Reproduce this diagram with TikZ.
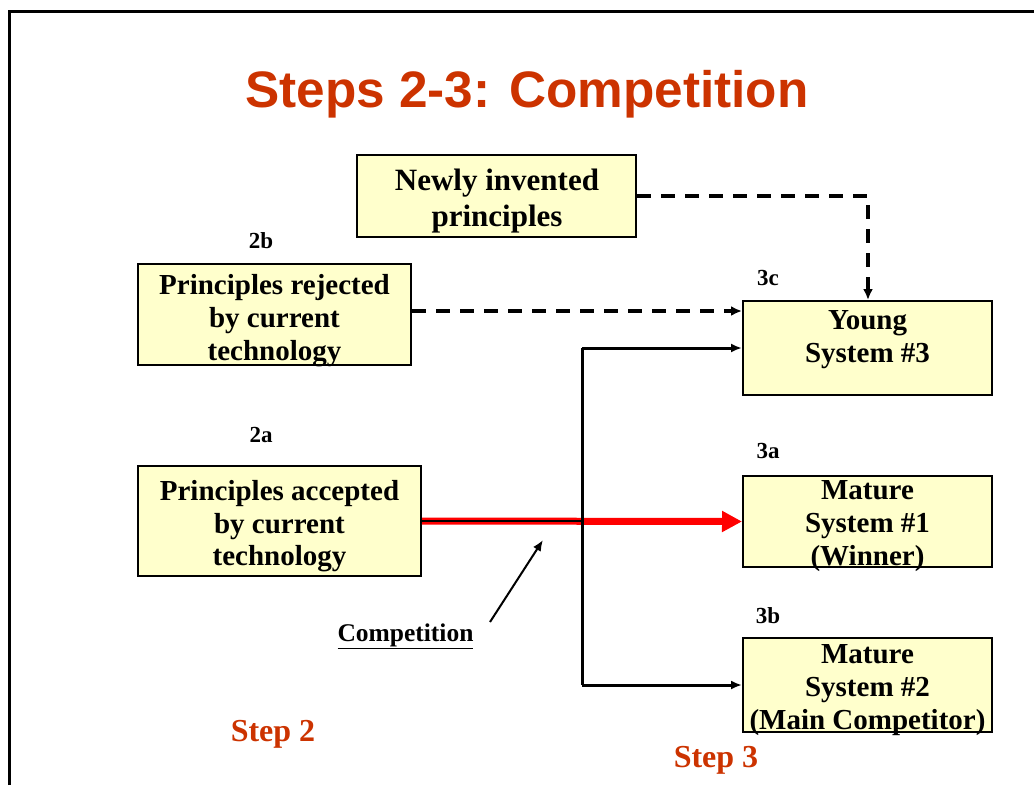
\documentclass[tikz,border=0pt]{standalone}
\usepackage{fontspec}
\setmainfont{Liberation Serif}
\newfontfamily\titlefont{Liberation Sans}
\usetikzlibrary{arrows.meta}
\definecolor{boxfill}{HTML}{FFFFCC}
\definecolor{titlered}{HTML}{CC3300}
\definecolor{winred}{HTML}{FF0000}
\tikzset{
  box/.style={draw=black, line width=2pt, fill=boxfill, inner sep=0pt},
  % box captions: the box runs from the cap height of the first line
  % down to the baseline of the last, so the node centre is the
  % visual centre of the lettering
  boxtext/.style n args={3}{inner sep=0pt, align=center,
    font=\fontsize{#1}{#2}\selectfont\bfseries,
    text height=0.66*#1pt+#3pt, text depth=0pt},
  tag/.style={font=\fontsize{23}{27}\selectfont\bfseries},
  steplabel/.style={text=titlered, font=\fontsize{32}{36}\selectfont\bfseries},
  conn/.style={line width=3pt, -{Latex[length=11pt,width=9pt]}},
  dashconn/.style={line width=3.5pt, dash pattern=on 14pt off 10pt,
    -{Latex[length=11pt,width=10pt]}},
}
\begin{document}
\begin{tikzpicture}[x=1pt, y=-1pt]
  \useasboundingbox (0,0) rectangle (1034,785);
  % slide frame
  \draw[line width=3pt] (9.5,785) -- (9.5,11) -- (1034,11);

  % title
  \node[text=titlered, font=\titlefont\fontsize{51.3}{56}\selectfont\bfseries]
    (title) at (527,94) {Steps 2-3: Competition};

  % step 2 sources
  \node[box, minimum width=279pt, minimum height=82pt] (newp) at (496.5,196) {};
  \node[boxtext={31}{36}{36}] (newpt) at (497,198)
    {Newly invented\\principles};
  \node[box, minimum width=273pt, minimum height=101pt] (rej) at (274.5,314.5) {};
  \node[boxtext={29}{33}{66}] (rejt) at (274.5,317.5)
    {Principles rejected\\by current\\technology};
  \node[box, minimum width=283pt, minimum height=110pt] (acc) at (279.5,521) {};
  \node[boxtext={29}{32.5}{65}] (acct) at (279.5,523.5)
    {Principles accepted\\by current\\technology};

  % step 3 systems
  \node[box, minimum width=249pt, minimum height=94pt] (young) at (867.5,348) {};
  \node[boxtext={29}{33}{33}] (youngt) at (867.5,336)
    {Young\\System \#3};
  \node[box, minimum width=249pt, minimum height=91pt] (win) at (867.5,521.5) {};
  \node[boxtext={29}{33}{66}] (wint) at (867.5,522.5)
    {Mature\\System \#1\\(Winner)};
  \node[box, minimum width=249pt, minimum height=94pt] (comp) at (867.5,685) {};
  \node[boxtext={29}{33}{66}] (compt) at (867.5,687)
    {Mature\\System \#2\\(Main Competitor)};

  % labels
  \node[tag] (l2b) at (261,241) {2b};
  \node[tag] (l2a) at (261,435) {2a};
  \node[tag] (l3c) at (768,278) {3c};
  \node[tag] (l3a) at (768,451) {3a};
  \node[tag] (l3b) at (768,616) {3b};
  \node[steplabel] (s2) at (273,734) {Step 2};
  \node[steplabel] (s3) at (716,760) {Step 3};
  \node[font=\fontsize{25.5}{28}\selectfont\bfseries] (compl) at (405.5,636)
    {\underline{Competition}};

  % junction of the competing branches
  \coordinate (jn) at (582,521);

  % winning path
  \draw[winred, line width=7pt, -{Triangle[length=20pt,width=20pt]}]
    (acc.east) -- (win.west);
  \draw[line width=2pt] (acc.east) -- (jn);

  % competing branches
  \draw[line width=3pt] (jn |- young.west) -- (jn |- comp.west);
  \draw[conn] (jn |- young.west) -- (young.west);
  \draw[conn] (jn |- comp.west) -- (comp.west);

  % new and rejected principles feeding the young system
  \draw[dashconn] (newp.east) -- (868,196) -- (young.north -| 868,0);
  \draw[dashconn] (rej.east |- 0,311) -- (young.west |- 0,311);

  % pointer to the competition
  \coordinate (ptip) at (543,540);
  \coordinate (ptail) at (490,622);
  \draw[line width=2pt, -{Latex[length=11pt,width=9pt]}] (ptail) -- (ptip);
\end{tikzpicture}
\end{document}
